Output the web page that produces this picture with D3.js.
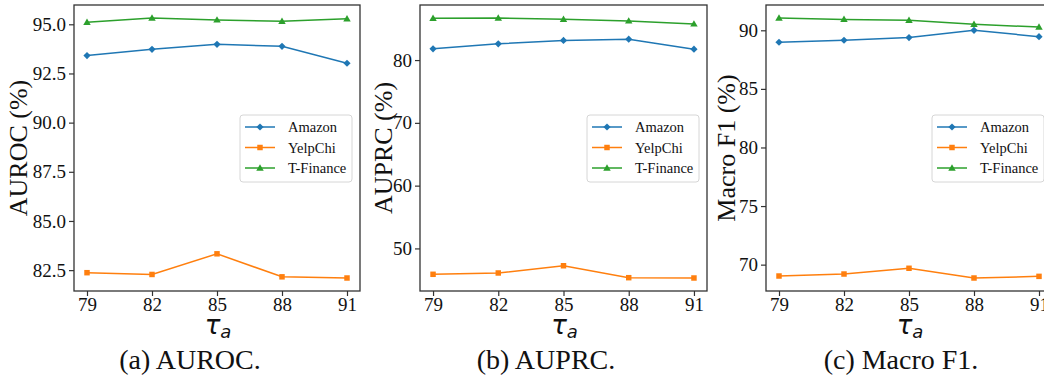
<!DOCTYPE html>
<html lang="en">
<head>
<meta charset="UTF-8">
<title>tau_a sensitivity</title>
<script src="https://d3js.org/d3.v7.min.js"></script>
<style>
  body { margin: 0; background: #fff; }
  svg { display: block; }
</style>
</head>
<body>
<div id="chart"></div>
<script>
  // x values (tau_a)
  const tauValues = [79, 82, 85, 88, 91];

  // AUROC (%)
  const aurocAmazon = [93.41, 93.73, 93.98, 93.88, 93.02];
  const aurocYelp   = [82.37, 82.28, 83.33, 82.16, 82.10];
  const aurocTFin   = [95.10, 95.32, 95.22, 95.15, 95.28];
  const aurocTicks  = [82.5, 85, 87.5, 90, 92.5, 95];

  // AUPRC (%)
  const auprcAmazon = [81.79, 82.58, 83.12, 83.33, 81.74];
  const auprcYelp   = [45.88, 46.09, 47.24, 45.34, 45.29];
  const auprcTFin   = [86.66, 86.70, 86.50, 86.23, 85.75];
  const auprcTicks  = [50, 60, 70, 80];

  // Macro F1 (%)
  const f1Amazon = [88.98, 89.15, 89.38, 90.00, 89.46];
  const f1Yelp   = [69.03, 69.20, 69.69, 68.86, 69.00];
  const f1TFin   = [91.05, 90.93, 90.85, 90.51, 90.28];
  const f1Ticks  = [70, 75, 80, 85, 90];

  const seriesNames = ['Amazon', 'YelpChi', 'T-Finance'];
  const colors = ['#1f77b4', '#ff7f0e', '#2ca02c'];

  const W = 1044, H = 379;
  const plotTop = 5, plotBottom = 291;

  const panels = [
    { left: 74, right: 360, label: 'AUROC (%)', caption: '(a) AUROC.', capX: 190, labX: 27,
      data: [aurocAmazon, aurocYelp, aurocTFin], ticks: aurocTicks, fmt: d3.format('.1f') },
    { left: 420, right: 707, label: 'AUPRC (%)', caption: '(b) AUPRC.', capX: 546, labX: 392,
      data: [auprcAmazon, auprcYelp, auprcTFin], ticks: auprcTicks, fmt: d3.format('d') },
    { left: 766, right: 1052, label: 'Macro F1 (%)', caption: '(c) Macro F1.', capX: 901, labX: 735,
      data: [f1Amazon, f1Yelp, f1TFin], ticks: f1Ticks, fmt: d3.format('d') }
  ];

  const svg = d3.select('#chart').append('svg')
    .attr('width', W).attr('height', H);
  svg.append('rect').attr('width', W).attr('height', H).attr('fill', '#fff');

  const serif = "Liberation Serif, Times New Roman, serif";

  function marker(g, i, x, y) {
    if (i === 0) {
      g.append('path').attr('d', d3.symbol(d3.symbolSquare, 26)())
        .attr('transform', `translate(${x},${y}) rotate(45)`)
        .attr('fill', colors[i]);
    } else if (i === 1) {
      g.append('path').attr('d', d3.symbol(d3.symbolSquare, 30)())
        .attr('transform', `translate(${x},${y})`)
        .attr('fill', colors[i]);
    } else {
      g.append('path').attr('d', d3.symbol(d3.symbolTriangle, 24)())
        .attr('transform', `translate(${x},${y + 0.5})`)
        .attr('fill', colors[i]);
    }
  }

  panels.forEach(p => {
    const g = svg.append('g');

    // matplotlib pads the x range by 5% (0.6 units each side)
    const xLin = d3.scaleLinear()
      .domain([tauValues[0] - 0.6, tauValues[tauValues.length - 1] + 0.6])
      .range([p.left, p.right]);

    const all = p.data.flat();
    const lo = d3.min(all), hi = d3.max(all), pad = (hi - lo) * 0.05;
    const y = d3.scaleLinear().domain([lo - pad, hi + pad]).range([plotBottom, plotTop]);

    // axes
    const xAxis = g.append('g').attr('transform', `translate(0,${plotBottom})`)
      .call(d3.axisBottom(xLin).tickValues(tauValues).tickSize(5).tickPadding(3));
    const yAxis = g.append('g').attr('transform', `translate(${p.left},0)`)
      .call(d3.axisLeft(y).tickValues(p.ticks).tickFormat(p.fmt).tickSize(5).tickPadding(3));

    [xAxis, yAxis].forEach(ax => {
      ax.attr('font-family', serif).attr('font-size', 19);
      ax.select('.domain').remove();
      ax.selectAll('line').attr('stroke', '#333').attr('stroke-width', 1.2);
      ax.selectAll('text').attr('fill', '#111');
    });
    xAxis.selectAll('text').attr('dy', '0.62em');

    // frame
    g.append('rect')
      .attr('x', p.left).attr('y', plotTop)
      .attr('width', p.right - p.left).attr('height', plotBottom - plotTop)
      .attr('fill', 'none').attr('stroke', '#333').attr('stroke-width', 1.3);

    // series
    const line = d3.line().x((d, i) => xLin(tauValues[i])).y(d => y(d));
    p.data.forEach((vals, si) => {
      g.append('path').datum(vals).attr('d', line)
        .attr('fill', 'none').attr('stroke', colors[si]).attr('stroke-width', 1.5);
      vals.forEach((v, i) => marker(g, si, xLin(tauValues[i]), y(v)));
    });

    // legend
    const lw = 112, lh = 67;
    const lx = p.right - 8 - lw, ly = (plotTop + plotBottom) / 2 - lh / 2 + 0.5;
    const lg = g.append('g');
    lg.append('rect').attr('x', lx).attr('y', ly).attr('width', lw).attr('height', lh)
      .attr('rx', 3).attr('fill', '#fff').attr('fill-opacity', 0.8)
      .attr('stroke', '#d6d6d6').attr('stroke-width', 1);
    seriesNames.forEach((name, i) => {
      const ry = ly + 12 + i * 20.5;
      lg.append('line').attr('x1', lx + 5).attr('x2', lx + 35)
        .attr('y1', ry).attr('y2', ry)
        .attr('stroke', colors[i]).attr('stroke-width', 1.5);
      marker(lg, i, lx + 20, ry);
      lg.append('text').attr('x', lx + 48).attr('y', ry + 5)
        .attr('font-family', serif).attr('font-size', 14.5).attr('fill', '#111')
        .text(name);
    });

    // y label
    g.append('text')
      .attr('transform', `translate(${p.labX},${(plotTop + plotBottom) / 2}) rotate(-90)`)
      .attr('text-anchor', 'middle')
      .attr('font-family', serif).attr('font-size', 26).attr('fill', '#111')
      .text(p.label);

    // x label tau_a
    const xl = g.append('text')
      .attr('x', (p.left + p.right) / 2 + 1).attr('y', 334)
      .attr('text-anchor', 'middle')
      .attr('font-family', 'DejaVu Sans, sans-serif').attr('font-style', 'italic')
      .attr('fill', '#111');
    xl.append('tspan').attr('font-size', 26).text('τ');
    xl.append('tspan').attr('font-size', 18).attr('dy', 4).text('a');

    // caption
    g.append('text')
      .attr('x', p.capX).attr('y', 369)
      .attr('text-anchor', 'middle')
      .attr('font-family', serif).attr('font-size', 28).attr('fill', '#111')
      .text(p.caption);
  });
</script>
</body>
</html>
